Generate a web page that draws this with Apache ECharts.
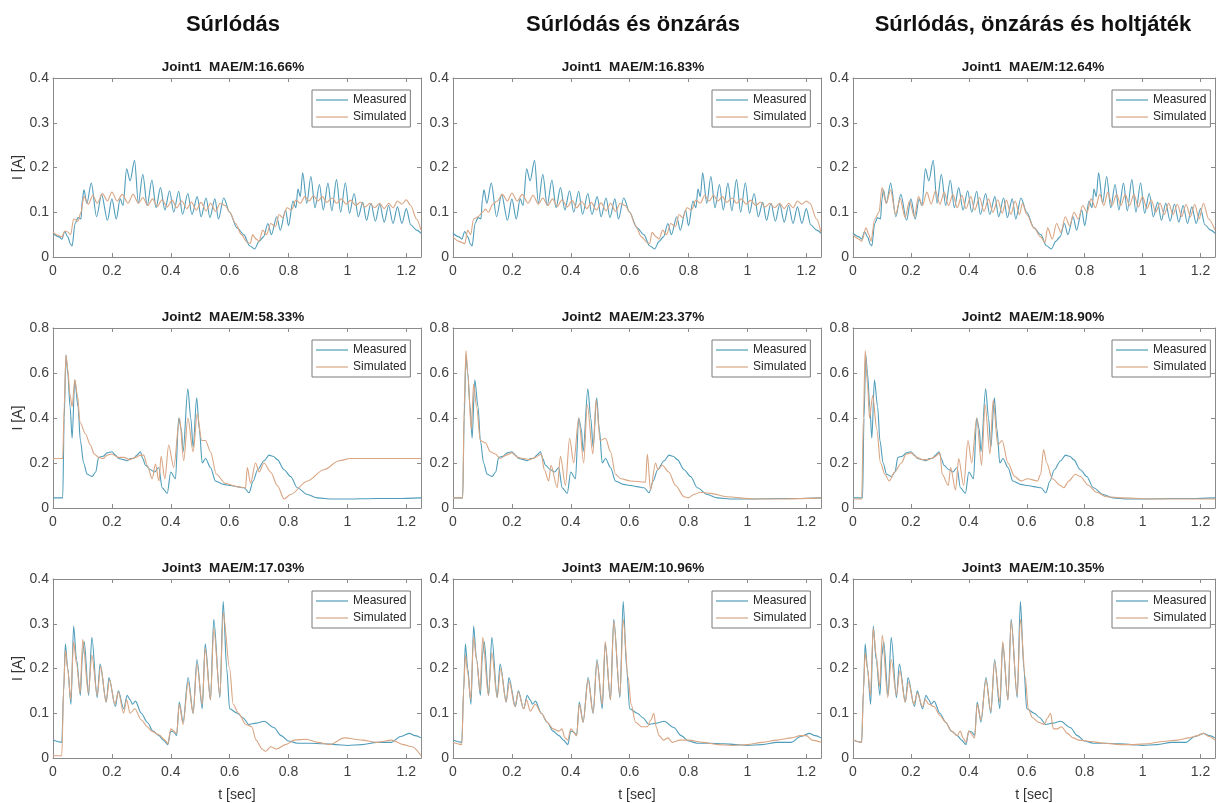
<!DOCTYPE html>
<html>
<head>
<meta charset="utf-8">
<script src="https://cdn.jsdelivr.net/npm/echarts@6/dist/echarts.min.js"></script>
<style>
html, body { margin: 0; padding: 0; background: #fff; }
#main { width: 1218px; height: 803px; }
</style>
</head>
<body>
<div id="main"></div>
<script>
// column headings and panel titles
const columnTitles = ['Súrlódás', 'Súrlódás és önzárás', 'Súrlódás, önzárás és holtjáték'];
const panelTitles = [
    ['Joint1  MAE/M:16.66%', 'Joint1  MAE/M:16.83%', 'Joint1  MAE/M:12.64%'],
    ['Joint2  MAE/M:58.33%', 'Joint2  MAE/M:23.37%', 'Joint2  MAE/M:18.90%'],
    ['Joint3  MAE/M:17.03%', 'Joint3  MAE/M:10.96%', 'Joint3  MAE/M:10.35%']
];
const yMax = [0.4, 0.8, 0.4];
const yStep = [0.1, 0.2, 0.1];

// measured current, same for every column  [t, I]
const meas1 = [[0,0.053],[0.02,0.045],[0.03,0.04],[0.04,0.057],[0.05,0.045],[0.06,0.028],[0.065,0.025],[0.075,0.075],[0.085,0.088],[0.095,0.085],[0.1,0.13],[0.105,0.15],[0.115,0.12],[0.13,0.165],[0.148,0.09],[0.165,0.14],[0.185,0.082],[0.2,0.13],[0.215,0.085],[0.228,0.13],[0.238,0.115],[0.25,0.197],[0.262,0.17],[0.277,0.216],[0.29,0.12],[0.305,0.185],[0.32,0.115],[0.336,0.172],[0.35,0.11],[0.365,0.155],[0.38,0.105],[0.396,0.148],[0.41,0.1],[0.427,0.147],[0.44,0.095],[0.458,0.142],[0.472,0.095],[0.49,0.135],[0.503,0.09],[0.52,0.132],[0.533,0.088],[0.55,0.13],[0.562,0.085],[0.58,0.132],[0.6,0.1],[0.625,0.065],[0.648,0.05],[0.668,0.025],[0.685,0.018],[0.7,0.035],[0.715,0.045],[0.73,0.075],[0.742,0.05],[0.76,0.09],[0.772,0.06],[0.79,0.105],[0.8,0.07],[0.815,0.125],[0.825,0.11],[0.832,0.152],[0.84,0.135],[0.848,0.188],[0.862,0.12],[0.876,0.18],[0.89,0.11],[0.905,0.162],[0.918,0.105],[0.934,0.165],[0.947,0.103],[0.963,0.173],[0.977,0.1],[0.993,0.166],[1.007,0.098],[1.023,0.142],[1.037,0.09],[1.052,0.122],[1.065,0.082],[1.08,0.12],[1.095,0.08],[1.11,0.118],[1.125,0.078],[1.14,0.115],[1.155,0.075],[1.17,0.112],[1.185,0.075],[1.2,0.108],[1.215,0.072],[1.235,0.06],[1.25,0.053]];
const meas2 = [[0,0.045],[0.033,0.045],[0.038,0.4],[0.044,0.68],[0.05,0.6],[0.058,0.45],[0.065,0.31],[0.074,0.57],[0.085,0.45],[0.093,0.3],[0.104,0.2],[0.116,0.15],[0.133,0.14],[0.145,0.16],[0.155,0.225],[0.17,0.23],[0.184,0.245],[0.2,0.25],[0.212,0.235],[0.223,0.22],[0.24,0.215],[0.252,0.21],[0.263,0.22],[0.274,0.22],[0.285,0.235],[0.297,0.25],[0.305,0.22],[0.314,0.19],[0.331,0.17],[0.345,0.16],[0.359,0.18],[0.371,0.09],[0.388,0.065],[0.4,0.16],[0.416,0.13],[0.427,0.4],[0.436,0.35],[0.442,0.25],[0.458,0.53],[0.468,0.4],[0.476,0.27],[0.488,0.49],[0.497,0.35],[0.507,0.2],[0.518,0.22],[0.535,0.18],[0.552,0.12],[0.58,0.105],[0.603,0.1],[0.625,0.095],[0.649,0.09],[0.666,0.068],[0.68,0.12],[0.695,0.17],[0.717,0.21],[0.734,0.235],[0.748,0.23],[0.762,0.215],[0.785,0.17],[0.807,0.14],[0.83,0.09],[0.864,0.06],[0.898,0.045],[0.95,0.04],[1.0,0.04],[1.1,0.042],[1.17,0.042],[1.25,0.045]];
const meas3 = [[0,0.04],[0.03,0.035],[0.036,0.15],[0.042,0.255],[0.05,0.2],[0.061,0.12],[0.07,0.295],[0.08,0.22],[0.093,0.14],[0.1,0.23],[0.106,0.26],[0.121,0.14],[0.132,0.27],[0.15,0.135],[0.16,0.21],[0.181,0.125],[0.19,0.18],[0.212,0.115],[0.222,0.15],[0.24,0.11],[0.252,0.14],[0.262,0.13],[0.27,0.12],[0.28,0.127],[0.3,0.1],[0.32,0.08],[0.34,0.06],[0.36,0.05],[0.375,0.04],[0.39,0.03],[0.4,0.06],[0.41,0.058],[0.42,0.05],[0.429,0.125],[0.442,0.08],[0.459,0.18],[0.476,0.1],[0.489,0.22],[0.507,0.11],[0.517,0.255],[0.535,0.13],[0.546,0.31],[0.567,0.135],[0.578,0.35],[0.59,0.2],[0.6,0.11],[0.626,0.1],[0.645,0.09],[0.665,0.075],[0.69,0.078],[0.717,0.082],[0.75,0.068],[0.775,0.05],[0.8,0.038],[0.83,0.033],[0.87,0.033],[0.92,0.032],[0.96,0.03],[1.0,0.028],[1.05,0.03],[1.1,0.035],[1.15,0.035],[1.18,0.048],[1.21,0.055],[1.23,0.05],[1.25,0.045]];

// simulated current: a = friction, b = + self-locking, c = + backlash
const sim1a = [[0,0.055],[0.02,0.048],[0.03,0.045],[0.04,0.058],[0.05,0.056],[0.06,0.05],[0.07,0.085],[0.085,0.08],[0.095,0.1],[0.105,0.135],[0.12,0.118],[0.135,0.138],[0.15,0.12],[0.168,0.142],[0.185,0.125],[0.2,0.145],[0.218,0.125],[0.235,0.14],[0.255,0.12],[0.272,0.14],[0.29,0.12],[0.305,0.133],[0.322,0.115],[0.338,0.13],[0.355,0.113],[0.37,0.128],[0.388,0.112],[0.405,0.127],[0.42,0.11],[0.437,0.125],[0.455,0.108],[0.47,0.123],[0.487,0.105],[0.503,0.122],[0.52,0.103],[0.535,0.12],[0.552,0.102],[0.568,0.12],[0.585,0.115],[0.6,0.1],[0.62,0.075],[0.64,0.05],[0.66,0.033],[0.67,0.03],[0.678,0.05],[0.69,0.04],[0.7,0.035],[0.712,0.06],[0.725,0.05],[0.74,0.075],[0.755,0.068],[0.768,0.095],[0.78,0.088],[0.795,0.11],[0.81,0.105],[0.825,0.127],[0.84,0.12],[0.855,0.135],[0.87,0.125],[0.885,0.137],[0.9,0.125],[0.915,0.135],[0.93,0.122],[0.948,0.132],[0.963,0.12],[0.98,0.13],[0.995,0.118],[1.012,0.127],[1.028,0.115],[1.045,0.123],[1.06,0.112],[1.077,0.12],[1.092,0.11],[1.11,0.12],[1.125,0.108],[1.14,0.12],[1.155,0.11],[1.17,0.125],[1.185,0.118],[1.2,0.128],[1.215,0.115],[1.235,0.085],[1.25,0.06]];
const sim1b = [[0,0.045],[0.02,0.035],[0.04,0.03],[0.05,0.06],[0.06,0.05],[0.07,0.085],[0.085,0.09],[0.1,0.1],[0.11,0.107],[0.12,0.1],[0.135,0.118],[0.15,0.125],[0.168,0.14],[0.185,0.125],[0.2,0.143],[0.218,0.125],[0.235,0.14],[0.255,0.12],[0.272,0.138],[0.29,0.118],[0.305,0.132],[0.322,0.115],[0.338,0.13],[0.355,0.113],[0.37,0.128],[0.388,0.112],[0.405,0.126],[0.42,0.11],[0.437,0.124],[0.455,0.108],[0.47,0.122],[0.487,0.105],[0.503,0.121],[0.52,0.103],[0.535,0.12],[0.552,0.102],[0.568,0.12],[0.585,0.115],[0.6,0.1],[0.62,0.07],[0.64,0.045],[0.66,0.032],[0.668,0.03],[0.676,0.055],[0.69,0.045],[0.7,0.04],[0.712,0.06],[0.725,0.05],[0.74,0.075],[0.755,0.068],[0.768,0.095],[0.78,0.088],[0.795,0.11],[0.81,0.105],[0.825,0.127],[0.84,0.12],[0.855,0.138],[0.87,0.125],[0.885,0.138],[0.9,0.125],[0.915,0.135],[0.93,0.122],[0.948,0.132],[0.963,0.12],[0.98,0.13],[0.995,0.118],[1.012,0.127],[1.028,0.115],[1.045,0.123],[1.06,0.112],[1.077,0.12],[1.092,0.11],[1.11,0.12],[1.125,0.108],[1.14,0.12],[1.155,0.11],[1.17,0.125],[1.185,0.118],[1.2,0.125],[1.212,0.12],[1.235,0.085],[1.25,0.055]];
const sim1c = [[0,0.05],[0.02,0.04],[0.03,0.035],[0.045,0.065],[0.055,0.05],[0.062,0.035],[0.075,0.085],[0.09,0.1],[0.1,0.155],[0.115,0.12],[0.13,0.15],[0.147,0.095],[0.163,0.13],[0.18,0.088],[0.195,0.125],[0.212,0.09],[0.226,0.135],[0.24,0.115],[0.255,0.145],[0.27,0.118],[0.285,0.148],[0.3,0.118],[0.315,0.145],[0.33,0.115],[0.345,0.14],[0.36,0.11],[0.376,0.138],[0.39,0.108],[0.407,0.135],[0.42,0.105],[0.437,0.133],[0.452,0.102],[0.468,0.13],[0.483,0.1],[0.5,0.128],[0.515,0.098],[0.53,0.127],[0.545,0.095],[0.56,0.125],[0.575,0.095],[0.585,0.12],[0.6,0.095],[0.625,0.065],[0.648,0.045],[0.663,0.032],[0.672,0.065],[0.688,0.04],[0.703,0.075],[0.718,0.055],[0.733,0.09],[0.748,0.07],[0.763,0.1],[0.778,0.085],[0.793,0.115],[0.808,0.1],[0.822,0.13],[0.837,0.11],[0.852,0.14],[0.866,0.115],[0.88,0.145],[0.895,0.115],[0.91,0.14],[0.925,0.115],[0.94,0.14],[0.955,0.115],[0.97,0.14],[0.985,0.112],[1.0,0.135],[1.015,0.108],[1.03,0.128],[1.045,0.1],[1.06,0.12],[1.075,0.095],[1.09,0.12],[1.105,0.095],[1.12,0.118],[1.135,0.09],[1.15,0.118],[1.165,0.09],[1.18,0.118],[1.195,0.085],[1.21,0.12],[1.228,0.085],[1.25,0.06]];

const sim2a = [[0,0.22],[0.033,0.22],[0.038,0.45],[0.044,0.68],[0.05,0.62],[0.058,0.5],[0.065,0.45],[0.074,0.57],[0.083,0.5],[0.092,0.38],[0.11,0.33],[0.127,0.28],[0.14,0.24],[0.155,0.225],[0.17,0.22],[0.184,0.235],[0.2,0.24],[0.22,0.225],[0.24,0.225],[0.26,0.215],[0.28,0.225],[0.297,0.235],[0.308,0.235],[0.32,0.19],[0.337,0.13],[0.348,0.195],[0.36,0.12],[0.367,0.23],[0.38,0.13],[0.393,0.28],[0.41,0.18],[0.43,0.4],[0.444,0.21],[0.458,0.4],[0.476,0.25],[0.49,0.42],[0.505,0.3],[0.518,0.3],[0.535,0.25],[0.555,0.15],[0.585,0.11],[0.626,0.095],[0.654,0.09],[0.66,0.18],[0.671,0.11],[0.688,0.2],[0.7,0.16],[0.717,0.2],[0.739,0.16],[0.762,0.1],[0.785,0.04],[0.807,0.06],[0.864,0.12],[0.92,0.17],[0.972,0.21],[1.01,0.22],[1.25,0.22]];
const sim2b = [[0,0.045],[0.033,0.045],[0.038,0.45],[0.044,0.7],[0.05,0.6],[0.062,0.35],[0.07,0.55],[0.08,0.45],[0.093,0.3],[0.11,0.29],[0.127,0.25],[0.144,0.24],[0.16,0.22],[0.18,0.235],[0.2,0.245],[0.22,0.225],[0.24,0.22],[0.26,0.215],[0.28,0.225],[0.3,0.24],[0.31,0.17],[0.325,0.12],[0.333,0.19],[0.354,0.09],[0.365,0.23],[0.382,0.1],[0.396,0.31],[0.41,0.2],[0.427,0.4],[0.444,0.2],[0.456,0.46],[0.475,0.24],[0.486,0.48],[0.5,0.3],[0.518,0.31],[0.535,0.25],[0.552,0.15],[0.57,0.13],[0.603,0.12],[0.654,0.115],[0.66,0.24],[0.671,0.08],[0.688,0.2],[0.696,0.17],[0.711,0.19],[0.733,0.16],[0.756,0.1],[0.785,0.05],[0.8,0.045],[0.818,0.06],[0.84,0.07],[0.875,0.065],[0.93,0.05],[1.02,0.04],[1.13,0.04],[1.25,0.045]];
const sim2c = [[0,0.04],[0.03,0.04],[0.036,0.4],[0.042,0.7],[0.05,0.55],[0.057,0.4],[0.068,0.5],[0.082,0.35],[0.095,0.2],[0.11,0.15],[0.125,0.12],[0.144,0.16],[0.167,0.2],[0.184,0.24],[0.2,0.245],[0.22,0.225],[0.24,0.215],[0.26,0.215],[0.28,0.225],[0.3,0.245],[0.308,0.15],[0.329,0.1],[0.337,0.18],[0.354,0.08],[0.365,0.22],[0.382,0.1],[0.397,0.3],[0.41,0.2],[0.427,0.4],[0.444,0.19],[0.456,0.46],[0.473,0.24],[0.484,0.48],[0.5,0.28],[0.515,0.3],[0.535,0.2],[0.558,0.14],[0.58,0.12],[0.603,0.13],[0.637,0.12],[0.648,0.15],[0.658,0.26],[0.669,0.2],[0.688,0.13],[0.717,0.1],[0.728,0.09],[0.745,0.12],[0.768,0.15],[0.785,0.14],[0.813,0.1],[0.841,0.07],[0.875,0.05],[0.932,0.045],[1.045,0.04],[1.25,0.04]];

const sim3a = [[0,0.005],[0.03,0.005],[0.036,0.15],[0.042,0.24],[0.05,0.2],[0.06,0.13],[0.07,0.26],[0.08,0.21],[0.092,0.145],[0.101,0.265],[0.12,0.145],[0.132,0.23],[0.15,0.14],[0.162,0.205],[0.18,0.125],[0.192,0.175],[0.21,0.12],[0.222,0.148],[0.24,0.1],[0.25,0.13],[0.262,0.1],[0.278,0.11],[0.3,0.085],[0.32,0.07],[0.335,0.06],[0.36,0.052],[0.38,0.04],[0.39,0.032],[0.4,0.065],[0.42,0.055],[0.429,0.12],[0.442,0.075],[0.459,0.17],[0.476,0.1],[0.489,0.21],[0.507,0.12],[0.517,0.245],[0.535,0.13],[0.546,0.29],[0.567,0.14],[0.578,0.325],[0.6,0.2],[0.612,0.12],[0.63,0.1],[0.655,0.075],[0.675,0.07],[0.69,0.04],[0.71,0.02],[0.722,0.015],[0.74,0.025],[0.76,0.02],[0.79,0.03],[0.82,0.04],[0.86,0.042],[0.9,0.035],[0.94,0.03],[0.99,0.045],[1.05,0.04],[1.1,0.035],[1.15,0.04],[1.19,0.03],[1.22,0.025],[1.25,0.005]];
const sim3b = [[0,0.035],[0.03,0.03],[0.036,0.15],[0.042,0.23],[0.05,0.19],[0.06,0.13],[0.07,0.27],[0.08,0.22],[0.092,0.15],[0.101,0.27],[0.12,0.14],[0.132,0.235],[0.15,0.135],[0.162,0.2],[0.18,0.125],[0.192,0.17],[0.21,0.115],[0.222,0.148],[0.24,0.11],[0.25,0.13],[0.262,0.105],[0.28,0.12],[0.3,0.1],[0.32,0.08],[0.34,0.065],[0.36,0.06],[0.37,0.065],[0.38,0.045],[0.39,0.04],[0.4,0.065],[0.42,0.05],[0.429,0.12],[0.442,0.08],[0.459,0.175],[0.476,0.1],[0.489,0.215],[0.507,0.12],[0.517,0.26],[0.535,0.13],[0.546,0.305],[0.567,0.14],[0.578,0.31],[0.595,0.18],[0.605,0.12],[0.62,0.08],[0.64,0.07],[0.66,0.07],[0.672,0.085],[0.682,0.1],[0.69,0.07],[0.7,0.05],[0.715,0.04],[0.73,0.045],[0.745,0.035],[0.77,0.04],[0.8,0.04],[0.85,0.035],[0.9,0.03],[0.95,0.028],[1.0,0.03],[1.05,0.035],[1.1,0.04],[1.15,0.045],[1.18,0.05],[1.2,0.05],[1.22,0.04],[1.25,0.035]];
const sim3c = [[0,0.04],[0.03,0.035],[0.036,0.15],[0.042,0.235],[0.05,0.2],[0.06,0.14],[0.07,0.29],[0.08,0.23],[0.092,0.16],[0.101,0.275],[0.12,0.135],[0.132,0.22],[0.15,0.14],[0.162,0.195],[0.18,0.125],[0.192,0.17],[0.21,0.12],[0.222,0.145],[0.24,0.115],[0.25,0.13],[0.262,0.12],[0.28,0.115],[0.3,0.095],[0.32,0.08],[0.34,0.06],[0.36,0.05],[0.37,0.06],[0.38,0.045],[0.39,0.035],[0.4,0.06],[0.42,0.045],[0.429,0.12],[0.442,0.085],[0.459,0.175],[0.476,0.105],[0.489,0.215],[0.507,0.125],[0.517,0.26],[0.535,0.13],[0.546,0.305],[0.567,0.14],[0.578,0.31],[0.595,0.18],[0.605,0.11],[0.62,0.09],[0.64,0.08],[0.66,0.075],[0.672,0.09],[0.682,0.1],[0.692,0.065],[0.705,0.065],[0.72,0.07],[0.74,0.055],[0.76,0.045],[0.78,0.04],[0.82,0.037],[0.87,0.033],[0.92,0.03],[0.97,0.03],[1.02,0.032],[1.07,0.037],[1.12,0.04],[1.16,0.045],[1.19,0.05],[1.21,0.055],[1.23,0.048],[1.25,0.04]];

const measured = [meas1, meas2, meas3];
const simulated = [
    [sim1a, sim1b, sim1c],
    [sim2a, sim2b, sim2c],
    [sim3a, sim3b, sim3c]
];

const FONT = '"Liberation Sans", Arial, sans-serif';
const axisColor = '#8a8a8a';
const colMeas = '#4f9dba';
const colSim = '#d9a583';

const colLeft = [53, 453, 853];
const gridW = 368;
const rowTop = [78, 328, 579];
const rowH = [179, 180, 179];

const fmt = v => String(+v.toFixed(2));

let grid = [], xAxis = [], yAxis = [], series = [], legend = [], graphic = [];

columnTitles.forEach((t, c) => {
    graphic.push({
        type: 'text', x: colLeft[c] + gridW / 2 - 4, y: 25,
        style: {text: t, font: 'bold 22px ' + FONT, fill: '#111', textAlign: 'center', textVerticalAlign: 'middle'}
    });
});

for (let r = 0; r < 3; r++) {
    for (let c = 0; c < 3; c++) {
        const g = grid.length;
        grid.push({left: colLeft[c], top: rowTop[r], width: gridW, height: rowH[r]});

        graphic.push({
            type: 'text', x: colLeft[c] + gridW / 2 - 4, y: rowTop[r] - 11,
            style: {text: panelTitles[r][c], font: 'bold 13.5px ' + FONT, fill: '#1a1a1a', textAlign: 'center', textVerticalAlign: 'middle'}
        });

        const tick = {show: true, inside: true, length: 4, lineStyle: {color: axisColor}};
        const line = {show: true, onZero: false, lineStyle: {color: axisColor, width: 1}};
        xAxis.push({
            gridIndex: g, type: 'value', min: 0, max: 1.25, interval: 0.2,
            axisLine: line, axisTick: tick, splitLine: {show: false},
            axisLabel: {
                fontSize: 14, color: '#404040', fontFamily: FONT, margin: 7,
                formatter: v => (v > 1.21 ? '' : fmt(v))
            },
            name: r === 2 ? 't [sec]' : '', nameLocation: 'middle', nameGap: 30,
            nameTextStyle: {fontSize: 14, color: '#333', fontFamily: FONT}
        });
        xAxis.push({
            gridIndex: g, type: 'value', position: 'top', min: 0, max: 1.25, interval: 0.2,
            axisLine: line, axisTick: tick, splitLine: {show: false}, axisLabel: {show: false}
        });
        yAxis.push({
            gridIndex: g, type: 'value', min: 0, max: yMax[r], interval: yStep[r],
            axisLine: line, axisTick: tick, splitLine: {show: false},
            axisLabel: {fontSize: 14, color: '#404040', fontFamily: FONT, margin: 4, formatter: fmt},
            name: c === 0 ? 'I [A]' : '', nameLocation: 'middle', nameGap: 27,
            nameTextStyle: {fontSize: 14, color: '#333', fontFamily: FONT}
        });
        yAxis.push({
            gridIndex: g, type: 'value', position: 'right', min: 0, max: yMax[r], interval: yStep[r],
            axisLine: line, axisTick: tick, splitLine: {show: false}, axisLabel: {show: false}
        });

        series.push({
            name: 'Measured', type: 'line', xAxisIndex: 2 * g, yAxisIndex: 2 * g,
            data: measured[r], symbol: 'none', smooth: 0.3, smoothMonotone: 'x',
            lineStyle: {color: colMeas, width: 1.1},
            itemStyle: {color: colMeas}, emphasis: {disabled: true}, z: 2
        });
        series.push({
            name: 'Simulated', type: 'line', xAxisIndex: 2 * g, yAxisIndex: 2 * g,
            data: simulated[r][c], symbol: 'none', smooth: 0.3, smoothMonotone: 'x',
            lineStyle: {color: colSim, width: 1.1},
            itemStyle: {color: colSim}, emphasis: {disabled: true}, z: 3
        });

        legend.push({
            left: colLeft[c] + 259, top: rowTop[r] + 12,
            orient: 'vertical', selectedMode: false,
            data: ['Measured', 'Simulated'],
            icon: 'rect', itemWidth: 32, itemHeight: 1.2,
            backgroundColor: '#fff', borderColor: '#7a7a7a', borderWidth: 1, borderRadius: 0,
            padding: [4, 4, 4, 4], itemGap: 5,
            textStyle: {fontSize: 12, color: '#262626', fontFamily: FONT, lineHeight: 12}
        });
    }
}

const chart = echarts.init(document.getElementById('main'));
chart.setOption({
    backgroundColor: '#fff',
    animation: false,
    grid, xAxis, yAxis, series, legend, graphic
});
</script>
</body>
</html>
